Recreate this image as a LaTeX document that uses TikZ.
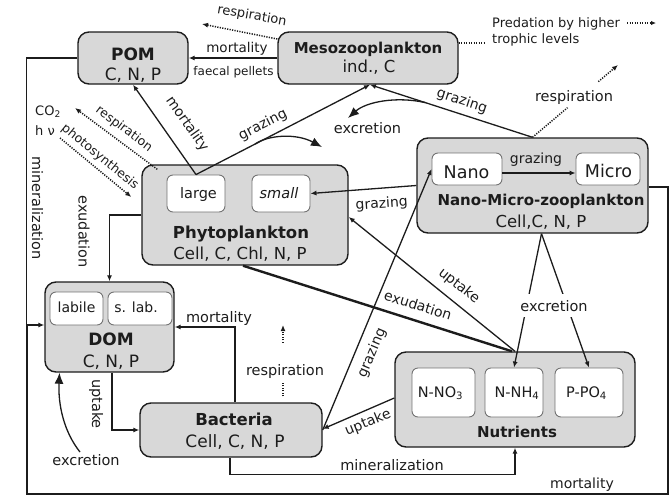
\documentclass[tikz,border=0pt]{standalone}
\usepackage{fontspec}
\setmainfont{DejaVu Sans}
\usetikzlibrary{arrows.meta,calc}
\definecolor{boxgray}{RGB}{216,216,216}
\definecolor{ink}{RGB}{28,28,28}
\newcommand\setfs[1]{\fontsize{#1}{#1}\selectfont}
\begin{document}
\begin{tikzpicture}[x=1pt,y=-1pt,
  every node/.style={inner sep=0pt,text=ink},
  mainbox/.style={draw=ink,fill=boxgray,rounded corners=11pt,line width=1.4pt},
  inbox/.style={draw=black!55,fill=white,rounded corners=6pt,line width=0.9pt},
  ttl/.style={font=\bfseries\setfs{#1},anchor=base},
  txt/.style={font=\setfs{#1},anchor=base},
  lab/.style={font=\setfs{14}},
  arr/.style={line width=1.3pt,draw=ink,-{Latex[length=6pt,width=5pt]}},
  ln/.style={line width=1.3pt,draw=ink},
  dotl/.style={line width=1.5pt,draw=ink,dash pattern=on 1.2pt off 1.3pt},
  dotarr/.style={dotl,-{Latex[length=6pt,width=5pt]}},
  bigarr/.style={line width=1.3pt,draw=ink,-{Latex[length=11pt,width=9pt]}},
]
\useasboundingbox (0,0) rectangle (672,496);

% ---------------- main boxes ----------------
\node[mainbox,minimum width=110pt,minimum height=52pt] (pom) at (133,58) {};
\node[ttl=17] (pomA) at (133,60) {POM};
\node[txt=17] (pomB) at (133,80) {C, N, P};

\node[mainbox,minimum width=180pt,minimum height=52pt] (meso) at (368,58) {};
\node[ttl=15] (mesoA) at (368,53) {Mesozooplankton};
\node[txt=16.5] (mesoB) at (369,72) {ind., C};

\node[mainbox,minimum width=206pt,minimum height=100pt] (phyto) at (245,215) {};
\node[ttl=16.5] (phytoA) at (241,238) {Phytoplankton};
\node[txt=16.5] (phytoB) at (240,259) {Cell, C, Chl, N, P};

\node[mainbox,minimum width=231pt,minimum height=95pt] (nmz) at (532.5,185.5) {};
\node[ttl=15] (nmzA) at (541,205) {Nano-Micro-zooplankton};
\node[txt=16.5] (nmzB) at (541,227) {Cell,C, N, P};

\node[mainbox,minimum width=129pt,minimum height=90pt] (dom) at (109.5,327) {};
\node[ttl=17] (domA) at (111,345) {DOM};
\node[txt=17] (domB) at (111,367) {C, N, P};

\node[mainbox,minimum width=182pt,minimum height=54pt] (bact) at (231,430) {};
\node[ttl=16.5] (bactA) at (234,425) {Bacteria};
\node[txt=17] (bactB) at (235,447) {Cell, C, N, P};

\node[mainbox,minimum width=240pt,minimum height=95pt] (nutr) at (515,399.5) {};
\node[ttl=15] (nutrA) at (517,437) {Nutrients};

% ---------------- inner boxes ----------------
\node[inbox,minimum width=58pt,minimum height=37pt] (large) at (196,193.5) {};
\node[txt=14.5] (largeT) at (198.5,198) {large};
\node[inbox,minimum width=58pt,minimum height=37pt] (small) at (281,193.5) {};
\node[txt=14.5,font=\itshape\setfs{14.5}] (smallT) at (279,198) {small};

\node[inbox,minimum width=70pt,minimum height=32pt] (nano) at (467,169) {};
\node[txt=17.5] (nanoT) at (466.5,178) {Nano};
\node[inbox,minimum width=64pt,minimum height=32pt] (micro) at (608,169) {};
\node[txt=17.5] (microT) at (608.5,177.5) {Micro};

\node[inbox,minimum width=53pt,minimum height=33pt] (labile) at (76.5,308.5) {};
\node[txt=14] (labileT) at (76.5,312) {labile};
\node[inbox,minimum width=64pt,minimum height=33pt] (slab) at (140,308.5) {};
\node[txt=14] (slabT) at (136,312) {s. lab.};

\node[inbox,minimum width=63pt,minimum height=49pt] (no3) at (443.5,392.5) {};
\node[txt=14.5] (no3T) at (440.5,397) {N-NO\textsubscript{3}};
\node[inbox,minimum width=58pt,minimum height=49pt] (nh4) at (514,392.5) {};
\node[txt=14.5] (nh4T) at (517,397) {N-NH\textsubscript{4}};
\node[inbox,minimum width=68pt,minimum height=49pt] (po4) at (589,392.5) {};
\node[txt=14.5] (po4T) at (586.5,397) {P-PO\textsubscript{4}};

% ---------------- connectors ----------------
% Meso -> POM
\draw[arr] (meso.west) -- (pom.east);
\node[txt=13.5] (lMort1) at (237,52) {mortality};
\node[txt=12] (lFaec) at (233.5,75) {faecal pellets};

% Meso respiration
\coordinate (cResp1) at (202,24);
\draw[dotarr] ([yshift=19pt]meso.west) -- (cResp1);
\node[lab,font=\setfs{13}, rotate=-10] (lResp1) at (252,16) {respiration};

% predation
\coordinate (cPred1) at (484,43);
\draw[dotl] ([yshift=15pt]meso.east) -- (cPred1);
\node[font=\setfs{13},anchor=base west] (lPred1) at (492,27) {Predation by higher};
\node[font=\setfs{13},anchor=base west] (lPred2) at (492,43) {trophic levels};
\coordinate (cPa) at (627,23);
\coordinate (cPb) at (656,23);
\draw[dotl,-{Latex[length=5pt,width=4.5pt]}] (cPa) -- (cPb);

% Phyto -> POM mortality, Phyto -> Meso grazing, NMZ -> Meso grazing
\draw[arr] (large.north) -- (pom.south);
\node[lab,rotate=-55] (lMort2) at (187,124) {mortality};
\draw[arr] (large.north) -- ([xshift=2pt]meso.south);
\node[lab,rotate=27] (lGraz1) at (263,125) {grazing};
\draw[arr] (nmz.north) -- ([xshift=2pt]meso.south);
\node[lab,rotate=-18] (lGraz2) at (462,101) {grazing};

% excretion (meso)
\coordinate (e1) at ($(large.north)!0.34!([xshift=2pt]meso.south)$);
\coordinate (e1end) at (322,147);
\draw[bigarr] (e1) .. controls (268,135) and (296,133) .. (e1end);
\coordinate (e2) at ($(nmz.north)!0.66!([xshift=2pt]meso.south)$);
\coordinate (e2end) at (348,118);
\draw[bigarr] (e2) .. controls (396,96) and (366,102) .. (e2end);
\node[txt=14.5] (lExc1) at (367.5,133) {excretion};

% NMZ respiration
\coordinate (cResp2) at (618,65);
\draw[dotl] (nmz.north) -- ($(nmz.north)!0.41!(cResp2)$);
\draw[dotarr] ($(nmz.north)!0.77!(cResp2)$) -- (cResp2);
\node[txt=14.5] (lResp2) at (574,101) {respiration};

% CO2 / h nu
\node[font=\setfs{13},anchor=base west] (lCO2) at (35,115) {CO\textsubscript{2}};
\node[font=\setfs{13},anchor=base west] (lhv) at (35,135) {h ν};
\coordinate (cCO2) at (75,108);
\draw[dotarr] ([xshift=16pt,yshift=-5pt]phyto.north west) -- (cCO2);
\node[lab,font=\setfs{12.5},rotate=-37] (lResp3) at (124,129) {respiration};
\coordinate (cHv) at (60,138);
\draw[dotarr] (cHv) -- ([xshift=-10pt,yshift=18pt]phyto.west);
\node[lab,font=\setfs{12.5},rotate=-39] (lPhot) at (100,157) {photosynthesis};

% exudation Phyto -> DOM
\draw[arr] (phyto.west) -| (dom.north);
\node[lab,font=\setfs{14.5},rotate=-90] (lExud1) at (84,231.5) {exudation};

% mineralization POM -> DOM (left)
\draw[arr] (pom.west) -- ++(-51,0) |- ([yshift=2pt]dom.west);
\node[lab,font=\setfs{14.5},rotate=-90] (lMin1) at (37.5,208) {mineralization};

% mortality frame (NMZ around)
\coordinate (frBR) at (668,494);
\coordinate (frJ) at (27,325);
\draw[ln] ([yshift=-1.5pt]nmz.east) -| (frBR) -| (frJ);
\node[txt=14] (lMort3) at (582,488) {mortality};

% NMZ -> small grazing
\draw[arr] (nmz.west) -- (small.east);
\node[txt=14,rotate=4] (lGraz3) at (382,208) {grazing};

% uptake Nutrients -> Phyto
\draw[arr] (nutr.north) -- ([yshift=-2pt]phyto.east);
\node[lab,rotate=-38.5] (lUpt1) at (459,286) {uptake};

% exudation thick Phyto -> Nutrients
\draw[line width=2.4pt,draw=ink] ([xshift=-2pt]phyto.south) -- ([xshift=-3pt]nutr.north);
\node[lab,rotate=-17.5] (lExud2) at (418,305) {exudation};

% grazing Bacteria -> Nano
\draw[arr] (bact.east) -- (nano.west);
\node[lab,rotate=67] (lGraz4) at (372,353) {grazing};

% uptake Nutrients -> Bacteria
\draw[arr] ([yshift=1.5pt]nutr.west) -- ([yshift=1pt]bact.east);
\node[lab,rotate=22] (lUpt2) at (368,423) {uptake};

% excretion NMZ -> NH4, PO4
\draw[arr] ([xshift=9pt]nmz.south) -- (nh4.north);
\draw[arr] ([xshift=9pt]nmz.south) -- (po4.north);
\node[txt=14.5,fill=white,inner xsep=2pt,inner ysep=6pt] (lExc2) at (554,311) {excretion};

% uptake DOM -> Bacteria
\draw[arr] ([xshift=2.5pt]dom.south) |- (bact.west);
\node[lab,font=\setfs{14.5},rotate=-90] (lUpt3) at (96,404) {uptake};

% mortality Bacteria -> DOM
\draw[arr] ([xshift=4pt]bact.north) |- (dom.east);
\node[txt=14.5] (lMort4) at (219,322) {mortality};

% respiration Bacteria
\coordinate (cResp4a) at ([xshift=52pt,yshift=6pt]bact.north);
\coordinate (cResp4) at (283,325);
\draw[dotl] (cResp4a) -- ($(cResp4a)!0.21!(cResp4)$);
\draw[dotarr] ($(cResp4a)!0.75!(cResp4)$) -- (cResp4);
\node[txt=14.5] (lResp4) at (285,375) {respiration};

% excretion -> DOM
\coordinate (cExc3) at (80,452);
\draw[bigarr] (cExc3) .. controls (64,432) and (58,405) .. ([xshift=-50pt]dom.south);
\node[txt=14.5] (lExc3) at (86,465) {excretion};

% mineralization Bacteria -> Nutrients
\draw[arr] ([xshift=-1pt]bact.south) -- ++(0,17) -| (nutr.south);
\node[txt=14.5] (lMin2) at (392,470) {mineralization};

% Nano -> Micro grazing
\draw[arr] ([yshift=-4pt]nano.east) -- ([yshift=-4pt]micro.west);
\node[txt=14] (lGraz5) at (536,163) {grazing};
\end{tikzpicture}
\end{document}
